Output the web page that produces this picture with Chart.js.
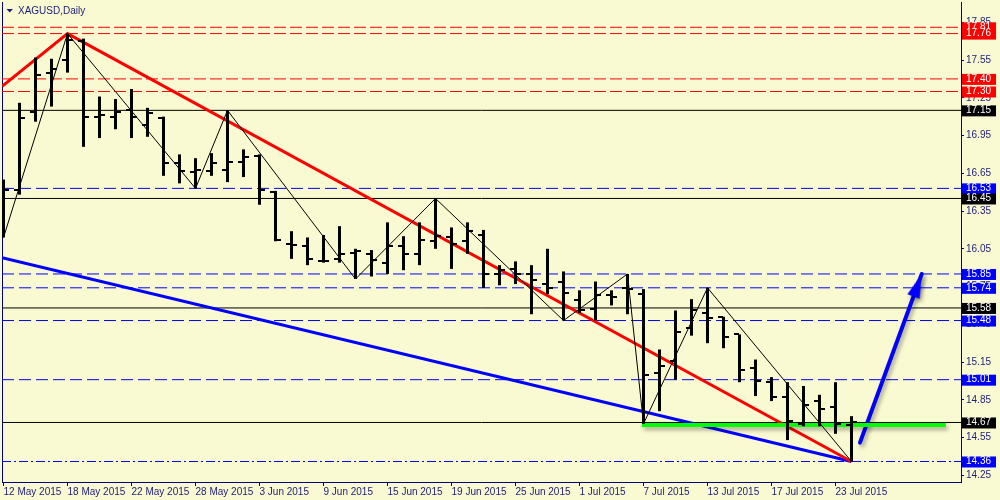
<!DOCTYPE html>
<html>
<head>
<meta charset="utf-8">
<script src="https://cdn.jsdelivr.net/npm/chart.js@4/dist/chart.umd.min.js"></script>
<style>
  html, body { margin: 0; padding: 0; background: #fafad2; }
  #wrap { width: 1000px; height: 500px; }
</style>
</head>
<body>
<div id="wrap"><canvas id="chart" width="1000" height="500"></canvas></div>
<script>
// Datos diarios XAGUSD (12 May - 24 Jul 2015)
const chartTitle = 'XAGUSD,Daily';
const days = ['12 May 2015','13 May 2015','14 May 2015','15 May 2015','18 May 2015','19 May 2015','20 May 2015','21 May 2015','22 May 2015',
  '25 May 2015','26 May 2015','27 May 2015','28 May 2015','29 May 2015','1 Jun 2015','2 Jun 2015','3 Jun 2015','4 Jun 2015','5 Jun 2015',
  '8 Jun 2015','9 Jun 2015','10 Jun 2015','11 Jun 2015','12 Jun 2015','15 Jun 2015','16 Jun 2015','17 Jun 2015','18 Jun 2015','19 Jun 2015',
  '22 Jun 2015','23 Jun 2015','24 Jun 2015','25 Jun 2015','26 Jun 2015','29 Jun 2015','30 Jun 2015','1 Jul 2015','2 Jul 2015','3 Jul 2015',
  '6 Jul 2015','7 Jul 2015','8 Jul 2015','9 Jul 2015','10 Jul 2015','13 Jul 2015','14 Jul 2015','15 Jul 2015','16 Jul 2015','17 Jul 2015',
  '20 Jul 2015','21 Jul 2015','22 Jul 2015','23 Jul 2015','24 Jul 2015'];
const openP  = [16.50,16.52,17.14,17.45,17.55,17.70,17.10,17.10,17.15,17.03,17.09,16.73,16.66,16.67,16.68,16.74,16.79,16.50,16.09,16.07,
  15.95,15.97,16.02,16.01,15.94,16.07,16.01,16.11,16.14,16.11,16.16,15.85,15.89,15.85,15.77,15.79,15.64,15.57,15.68,15.74,
  15.69,15.06,15.16,15.42,15.54,15.51,15.37,15.10,14.99,14.87,14.66,14.84,14.79,14.65];
const highP  = [16.60,17.21,17.57,17.56,17.76,17.72,17.26,17.24,17.32,17.17,17.10,16.80,16.77,16.81,17.15,16.84,16.80,16.51,16.19,16.14,
  16.16,16.23,16.05,16.04,16.26,16.15,16.26,16.45,16.22,16.26,16.20,15.92,15.95,15.92,16.05,15.87,15.72,15.79,15.72,15.85,
  15.73,15.25,15.56,15.65,15.74,15.51,15.37,15.17,15.03,14.99,14.96,14.89,14.99,14.72];
const lowP   = [16.14,16.48,17.06,17.18,17.45,16.86,16.93,17.00,16.93,16.94,16.63,16.57,16.53,16.63,16.58,16.62,16.40,16.11,15.97,15.92,
  15.94,15.94,15.81,15.83,15.85,15.88,15.92,16.05,15.89,16.01,15.74,15.76,15.77,15.53,15.69,15.48,15.54,15.48,15.60,15.53,
  14.66,14.76,15.01,15.36,15.30,15.26,14.99,14.88,14.84,14.53,14.64,14.64,14.58,14.36];
const closeP = [16.52,17.09,17.43,17.48,17.71,17.10,17.11,17.14,17.10,17.13,16.73,16.67,16.68,16.73,16.74,16.78,16.52,16.12,16.08,15.97,
  15.95,16.01,16.03,15.96,16.07,16.01,16.12,16.15,16.09,16.19,15.85,15.88,15.85,15.80,15.74,15.70,15.56,15.68,15.67,15.73,
  15.05,15.12,15.39,15.56,15.50,15.35,15.09,15.00,14.87,14.68,14.81,14.78,14.66,14.67];

const labelIdx = [0,4,8,12,16,20,24,28,32,36,40,44,48,52];
const priceTicks = [14.25,14.55,14.85,15.15,15.45,15.75,16.05,16.35,16.65,16.95,17.25,17.55,17.85];

// Niveles horizontales y su tipo
const levelPrices = [17.81,17.76,17.40,17.30,17.15,16.53,16.45,15.85,15.74,15.58,15.48,15.01,14.67,14.36];
const levelKinds  = ['res','res','res','res','piv','sup','piv','sup','sup','piv','sup','sup','piv','low'];

// ZigZag: barra y extremo usado
const zigIdx  = [0,4,12,14,22,27,35,39,40,44,53];
const zigSide = ['l','h','l','h','l','h','l','h','l','h','l'];

// Líneas de tendencia, soporte verde y flecha
const redX = [-0.09, 4, 53];
const redY = [17.34, 17.76, 14.36];
const blueX = [-0.09, 53];
const blueY = [15.98, 14.36];
const greenX = [39.9, 58.9];
const greenY = [14.65, 14.65];
const arrowX = [53.53, 57.39];
const arrowY = [14.51, 15.85];

const xMin = -0.09375, xMax = 59.84375;
const yMin = 14.197, yMax = 18.011;

const navy = '#000080';
const textNavy = '#1c1c7c';
const fontFamily = '"Liberation Sans", Arial, sans-serif';
const kindColor = { res: '#ff0000', sup: '#0000ff', piv: '#000000', low: '#0000ff' };
const kindDash = { res: [12, 4], sup: [12, 5], piv: [], low: [9, 3, 2, 3] };

// Marcas de apertura / cierre
function tickMark(side) {
  const c = document.createElement('canvas');
  c.width = 11; c.height = 2;
  const g = c.getContext('2d');
  g.fillStyle = '#000000';
  g.fillRect(side === 'open' ? 0 : 6, 0, 5, 2);
  return c;
}
function arrowHead() {
  const c = document.createElement('canvas');
  c.width = 13; c.height = 50;
  const g = c.getContext('2d');
  g.fillStyle = '#0000ff';
  g.beginPath();
  g.moveTo(6.5, 25); g.lineTo(13, 49); g.lineTo(0, 49);
  g.closePath(); g.fill();
  return c;
}
const openMark = tickMark('open');
const closeMark = tickMark('close');
const headMark = arrowHead();

const datasets = [];

levelPrices.forEach((p, k) => {
  const kind = levelKinds[k];
  datasets.push({
    type: 'line',
    data: [{ x: xMin, y: p }, { x: xMax, y: p }],
    borderColor: kindColor[kind],
    borderWidth: 1,
    borderDash: kindDash[kind],
    pointRadius: 0,
    order: 20
  });
});

datasets.push({
  type: 'line',
  data: redX.map((x, i) => ({ x: x, y: redY[i] })),
  borderColor: '#ff0000', borderWidth: 3, pointRadius: 0, order: 10
});
datasets.push({
  type: 'line',
  data: blueX.map((x, i) => ({ x: x, y: blueY[i] })),
  borderColor: '#0000ff', borderWidth: 3, pointRadius: 0, order: 10
});
datasets.push({
  type: 'line',
  data: greenX.map((x, i) => ({ x: x, y: greenY[i] })),
  borderColor: '#00ff00', borderWidth: 4, borderCapStyle: 'butt', pointRadius: 0, shadow: true, order: 9
});
datasets.push({
  type: 'line',
  data: arrowX.map((x, i) => ({ x: x, y: arrowY[i] })),
  borderColor: '#0000ff', borderWidth: 4, borderCapStyle: 'round', pointRadius: 0, shadow: true, order: 9
});
datasets.push({
  type: 'scatter',
  data: [{ x: arrowX[1], y: arrowY[1] }],
  pointStyle: headMark,
  pointRadius: 8,
  rotation: (c) => {
    const xs = c.chart.scales.x, ys = c.chart.scales.y;
    const dx = xs.getPixelForValue(arrowX[1]) - xs.getPixelForValue(arrowX[0]);
    const dy = ys.getPixelForValue(arrowY[1]) - ys.getPixelForValue(arrowY[0]);
    return Math.atan2(dx, -dy) * 180 / Math.PI;
  },
  shadow: true,
  order: 8
});

// Barras OHLC: rango máximo-mínimo
datasets.push({
  type: 'bar',
  data: days.map((d, i) => ({ x: i, y: [lowP[i], highP[i]] })),
  backgroundColor: '#000000',
  borderWidth: 0,
  barThickness: 3,
  inflateAmount: 0,
  order: 3
});
datasets.push({
  type: 'scatter',
  data: openP.map((v, i) => ({ x: i, y: v })),
  pointStyle: openMark, pointRadius: 5, order: 2
});
datasets.push({
  type: 'scatter',
  data: closeP.map((v, i) => ({ x: i, y: v })),
  pointStyle: closeMark, pointRadius: 5, order: 2
});
datasets.push({
  type: 'line',
  data: zigIdx.map((b, i) => ({ x: b, y: zigSide[i] === 'h' ? highP[b] : lowP[b] })),
  borderColor: '#000000', borderWidth: 1, pointRadius: 0, order: 1
});

const shadowPlugin = {
  id: 'sombra',
  beforeDatasetDraw(chart, args) {
    if (!chart.data.datasets[args.index].shadow) return;
    const ctx = chart.ctx;
    ctx.save();
    ctx.shadowColor = 'rgba(0, 0, 0, 0.35)';
    ctx.shadowBlur = 4;
    ctx.shadowOffsetX = 2;
    ctx.shadowOffsetY = 3;
  },
  afterDatasetDraw(chart, args) {
    if (chart.data.datasets[args.index].shadow) chart.ctx.restore();
  }
};

const titlePlugin = {
  id: 'titulo',
  afterDraw(chart) {
    const ctx = chart.ctx;
    ctx.save();
    ctx.fillStyle = textNavy;
    ctx.beginPath();
    ctx.moveTo(6.5, 9); ctx.lineTo(13, 9); ctx.lineTo(9.75, 12.5);
    ctx.closePath(); ctx.fill();
    ctx.font = '10px ' + fontFamily;
    ctx.textBaseline = 'middle';
    ctx.fillText(chartTitle, 18, 11);
    ctx.restore();
  }
};

const isLevel = (c) => c.index >= priceTicks.length;

new Chart(document.getElementById('chart'), {
  type: 'scatter',
  data: { datasets: datasets },
  plugins: [shadowPlugin, titlePlugin],
  options: {
    responsive: false,
    animation: false,
    events: [],
    layout: { padding: { top: 2, left: 0, right: 0, bottom: 0 }, autoPadding: false },
    plugins: { legend: { display: false }, tooltip: { enabled: false } },
    scales: {
      x: {
        type: 'linear',
        min: xMin, max: xMax,
        offset: false,
        afterBuildTicks: (ax) => { ax.ticks = labelIdx.map(v => ({ value: v })); },
        afterFit: (ax) => { ax.height = 18; ax.paddingLeft = 0; ax.paddingRight = 0; },
        grid: { drawOnChartArea: false, drawTicks: true, tickLength: 4, color: navy, offset: false },
        border: { color: navy, width: 1 },
        ticks: {
          autoSkip: false, maxRotation: 0, minRotation: 0, align: 'start', padding: 0,
          color: textNavy, font: { family: fontFamily, size: 10 },
          callback: (v) => days[v]
        }
      },
      y: {
        type: 'linear',
        position: 'right',
        min: yMin, max: yMax,
        afterBuildTicks: (ax) => { ax.ticks = priceTicks.concat(levelPrices).map(v => ({ value: v })); },
        afterFit: (ax) => { ax.width = 39; ax.paddingTop = 0; ax.paddingBottom = 0; },
        grid: { drawOnChartArea: false, drawTicks: true, tickLength: 3, color: navy },
        border: { color: navy, width: 1 },
        ticks: {
          autoSkip: false, padding: 2,
          font: { family: fontFamily, size: 10, lineHeight: 1 },
          color: (c) => isLevel(c) ? '#ffffff' : textNavy,
          showLabelBackdrop: (c) => isLevel(c),
          backdropColor: (c) => isLevel(c) ? kindColor[levelKinds[c.index - priceTicks.length]] : 'rgba(0,0,0,0)',
          backdropPadding: { left: 4, right: 5, top: 0, bottom: 1 },
          callback: (v) => Number(v).toFixed(2)
        }
      },
      yl: {
        type: 'linear',
        position: 'left',
        afterFit: (ax) => { ax.width = 2; ax.paddingTop = 0; ax.paddingBottom = 0; },
        grid: { drawOnChartArea: false, drawTicks: false },
        border: { color: navy, width: 1 },
        ticks: { display: false }
      }
    }
  }
});
</script>
</body>
</html>
